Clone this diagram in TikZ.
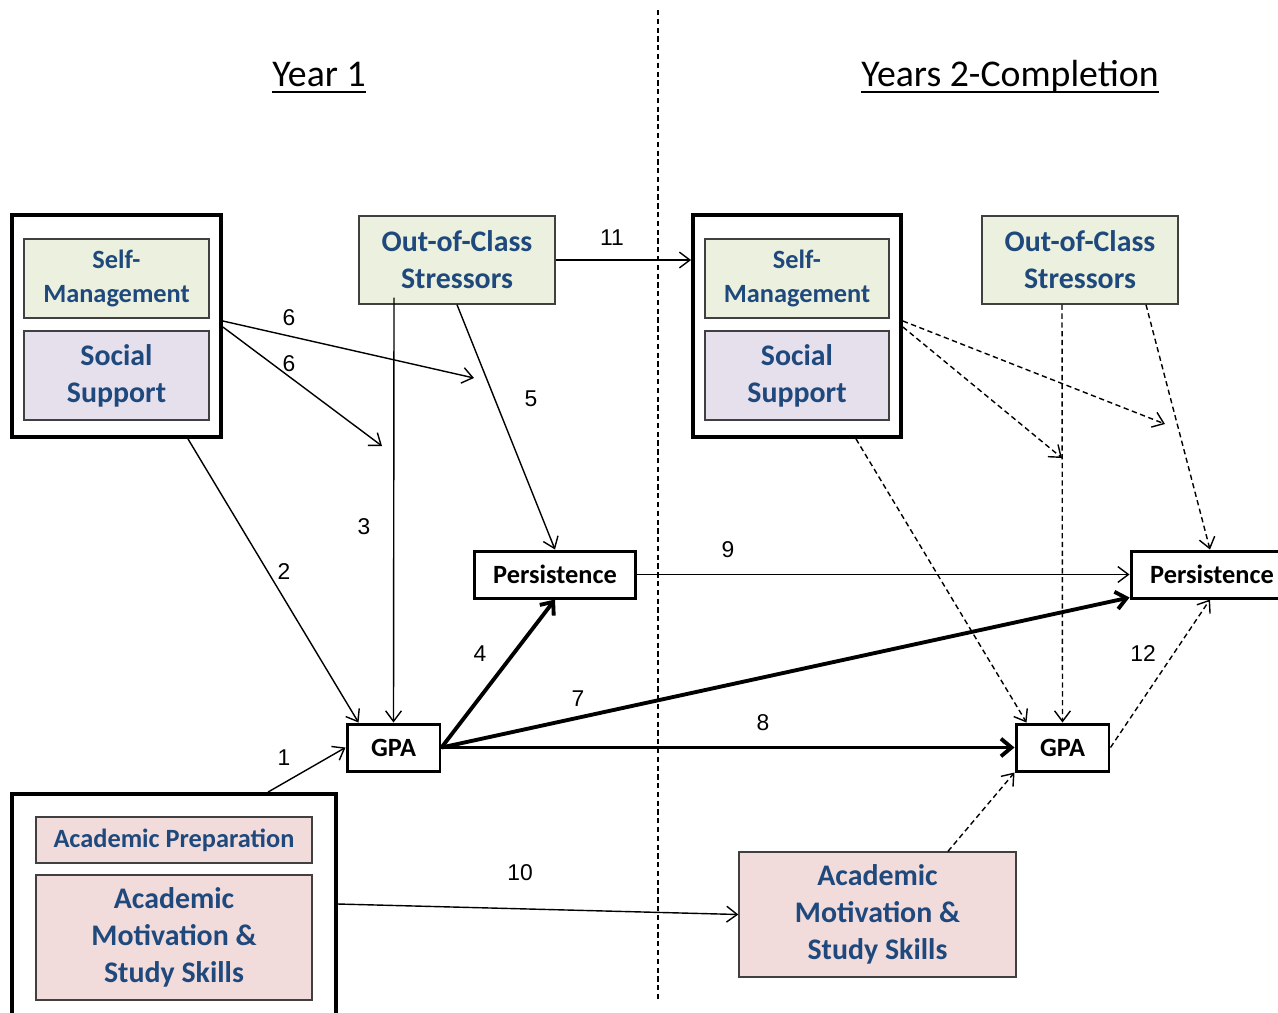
\documentclass[tikz,border=0pt]{standalone}
\usepackage{fontspec}
\setmainfont{Carlito}
\newfontfamily\numfont{Liberation Sans}
\usetikzlibrary{arrows.meta}

\definecolor{txtblue}{HTML}{1F497D}
\definecolor{boxgreen}{HTML}{EBF1DE}
\definecolor{boxlilac}{HTML}{E5E0EC}
\definecolor{boxpink}{HTML}{F2DCDB}
\definecolor{boxline}{HTML}{404040}

\tikzset{
  outerbox/.style={draw, line width=2.2pt, fill=white, inner sep=0pt},
  factor/.style={draw=boxline, line width=0.8pt, align=center, text=txtblue,
    font=\bfseries\fontsize{17}{21}\selectfont, inner sep=0pt},
  smallfactor/.style={factor, font=\bfseries\fontsize{15}{19}\selectfont},
  outcome/.style={draw, line width=1.7pt, fill=white, minimum height=0.94cm,
    font=\bfseries\fontsize{15}{18}\selectfont, inner sep=0pt},
  heading/.style={anchor=base, inner sep=0pt, font=\fontsize{21.5}{26}\selectfont},
  num/.style={font=\numfont\fontsize{13}{15}\selectfont},
  link/.style={line width=0.8pt, -{Straight Barb[length=6pt,width=9pt]}},
  boldlink/.style={line width=2.2pt, -{Straight Barb[length=6pt,width=10pt]}},
  dashlink/.style={link, dash pattern=on 3pt off 2pt},
  divider/.style={line width=0.8pt, dash pattern=on 3pt off 2pt}
}

\begin{document}
\begin{tikzpicture}[x=0.02cm, y=-0.02cm]
  \useasboundingbox (0,0) rectangle (1278,1012);

  % headings
  \node[heading] (year1) at (319,86) {Year 1};
  \node[heading] (year2) at (1010,86) {Years 2-Completion};
  \draw[line width=1.2pt] ([yshift=-3.5pt]year1.base west) -- ([yshift=-3.5pt]year1.base east);
  \draw[line width=1.2pt] ([yshift=-3.5pt]year2.base west) -- ([yshift=-3.5pt]year2.base east);

  \draw[divider] (658,10) -- (658,1000);

  % year 1
  \node[outerbox, minimum width=4.18cm, minimum height=4.44cm] (ss1) at (116.5,326) {};
  \node[smallfactor, fill=boxgreen, minimum width=3.7cm, minimum height=1.58cm] (sm1) at (116.5,278.5) {Self-\\Management};
  \node[factor, fill=boxlilac, minimum width=3.7cm, minimum height=1.78cm] (so1) at (116.5,375.5) {Social\\Support};
  \node[factor, fill=boxgreen, minimum width=3.92cm, minimum height=1.76cm] (ooc1) at (457,260) {Out-of-Class\\Stressors};
  \node[outcome, minimum width=3.24cm] (per1) at (555,574.5) {Persistence};
  \node[outcome, minimum width=1.86cm] (gpa1) at (393.5,747.5) {GPA};
  \node[outerbox, minimum width=6.48cm, minimum height=4.56cm] (acad) at (174,908) {};
  \node[smallfactor, fill=boxpink, minimum width=5.52cm, minimum height=0.92cm] (ap1) at (174,840) {Academic Preparation};
  \node[factor, fill=boxpink, minimum width=5.52cm, minimum height=2.5cm] (am1) at (174,937.5) {Academic\\Motivation \&\\Study Skills};

  % years 2-completion
  \node[outerbox, minimum width=4.16cm, minimum height=4.44cm] (ss2) at (797,326) {};
  \node[smallfactor, fill=boxgreen, minimum width=3.68cm, minimum height=1.58cm] (sm2) at (797,278.5) {Self-\\Management};
  \node[factor, fill=boxlilac, minimum width=3.68cm, minimum height=1.78cm] (so2) at (797,375.5) {Social\\Support};
  \node[factor, fill=boxgreen, minimum width=3.92cm, minimum height=1.76cm] (ooc2) at (1080,260) {Out-of-Class\\Stressors};
  \node[outcome, minimum width=3.24cm] (per2) at (1212,574.5) {Persistence};
  \node[outcome, minimum width=1.86cm] (gpa2) at (1062.5,747.5) {GPA};
  \node[factor, fill=boxpink, minimum width=5.54cm, minimum height=2.5cm] (am2) at (877.5,914.5) {Academic\\Motivation \&\\Study Skills};

  % free arrow ends
  \coordinate (e6a) at (474,378);
  \coordinate (e6b) at (382,446);
  \coordinate (d6a) at (1165,424);
  \coordinate (d6b) at (1062,458);

  % paths
  \draw[link] ([xshift=1.88cm]acad.north) -- (gpa1.west);
  \draw[link] ([xshift=1.43cm]ss1.south) -- ([xshift=0.26cm]gpa1.north west);
  \draw[link] ([xshift=-1.26cm,yshift=0.14cm]ooc1.south) -- (gpa1.north);
  \draw[boldlink] (gpa1.east) -- (per1.south);
  \draw[link] (ooc1.south) -- (per1.north);
  \draw[link] ([yshift=0.1cm]ss1.east) -- (e6a);
  \draw[link] ([yshift=-0.02cm]ss1.east) -- (e6b);
  \draw[boldlink] (gpa1.east) -- ([yshift=0.04cm]per2.south west);
  \draw[boldlink] (gpa1.east) -- (gpa2.west);
  \draw[link] (per1.east) -- (per2.west);
  \draw[link] ([yshift=0.08cm]acad.east) -- (am2.west);
  \draw[link] (ooc1.east) -- (ooc1.east -| ss2.west);
  \draw[dashlink] (gpa2.east) -- ([xshift=-0.04cm]per2.south);

  \draw[dashlink] ([yshift=0.1cm]ss2.east) -- (d6a);
  \draw[dashlink] ([yshift=-0.02cm]ss2.east) -- (d6b);
  \draw[dashlink] ([xshift=-0.36cm]ooc2.south) -- (gpa2.north);
  \draw[dashlink] ([xshift=1.32cm]ooc2.south) -- ([xshift=-0.04cm]per2.north);
  \draw[dashlink] ([xshift=1.18cm]ss2.south) -- ([xshift=0.24cm]gpa2.north west);
  \draw[dashlink] ([xshift=1.41cm]am2.north) -- (gpa2.south west);

  % path numbers
  \node[num] (n1) at (284,758) {1};
  \node[num] (n2) at (284,572) {2};
  \node[num] (n3) at (364,527) {3};
  \node[num] (n4) at (480,654) {4};
  \node[num] (n5) at (531,399) {5};
  \node[num] (n6a) at (289,318) {6};
  \node[num] (n6b) at (289,364) {6};
  \node[num] (n7) at (578,699) {7};
  \node[num] (n8) at (763,723) {8};
  \node[num] (n9) at (728,550) {9};
  \node[num] (n10) at (520,873) {10};
  \node[num] (n11) at (612,238) {11};
  \node[num] (n12) at (1143,654) {12};
\end{tikzpicture}
\end{document}
